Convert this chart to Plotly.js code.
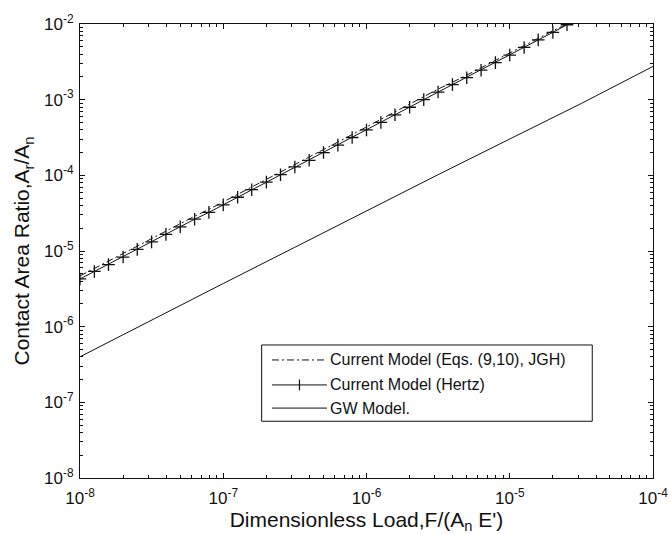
<!DOCTYPE html>
<html>
<head>
<meta charset="utf-8">
<script src="https://cdn.plot.ly/plotly-3.0.1.min.js"></script>
<style>
  html, body { margin: 0; padding: 0; background: #fff; }
  #chart { width: 670px; height: 534px; }
</style>
</head>
<body>
<div id="chart"></div>
<script>
// Dimensionless load F/(An E') sampled every 0.1 decade
const loads = [
  1.00e-8, 1.26e-8, 1.58e-8, 2.00e-8, 2.51e-8, 3.16e-8, 3.98e-8, 5.01e-8, 6.31e-8, 7.94e-8,
  1.00e-7, 1.26e-7, 1.58e-7, 2.00e-7, 2.51e-7, 3.16e-7, 3.98e-7, 5.01e-7, 6.31e-7, 7.94e-7,
  1.00e-6, 1.26e-6, 1.58e-6, 2.00e-6, 2.51e-6, 3.16e-6, 3.98e-6, 5.01e-6, 6.31e-6, 7.94e-6,
  1.00e-5, 1.26e-5, 1.58e-5, 2.00e-5, 2.51e-5
];

// Current model, Eqs. (9,10), JGH
const areaJGH = [
  4.68e-6, 5.89e-6, 7.24e-6, 9.12e-6, 1.15e-5, 1.45e-5, 1.82e-5, 2.29e-5, 2.88e-5, 3.55e-5,
  4.47e-5, 5.62e-5, 7.08e-5, 8.91e-5, 1.12e-4, 1.41e-4, 1.74e-4, 2.19e-4, 2.75e-4, 3.47e-4,
  4.37e-4, 5.50e-4, 6.92e-4, 8.71e-4, 1.10e-3, 1.38e-3, 1.70e-3, 2.09e-3, 2.63e-3, 3.31e-3,
  4.17e-3, 5.25e-3, 6.46e-3, 8.13e-3, 1.00e-2
];

// Current model, Hertz
const areaHertz = [
  4.27e-6, 5.37e-6, 6.61e-6, 8.32e-6, 1.05e-5, 1.32e-5, 1.66e-5, 2.09e-5, 2.63e-5, 3.24e-5,
  4.07e-5, 5.13e-5, 6.46e-5, 8.13e-5, 1.02e-4, 1.29e-4, 1.58e-4, 2.00e-4, 2.51e-4, 3.16e-4,
  3.98e-4, 5.01e-4, 6.31e-4, 7.94e-4, 1.00e-3, 1.26e-3, 1.58e-3, 1.95e-3, 2.45e-3, 3.09e-3,
  3.89e-3, 4.90e-3, 6.17e-3, 7.76e-3, 9.77e-3
];

// Greenwood-Williamson model
const loadsGW = [1e-8, 3.16e-8, 1e-7, 3.16e-7, 1e-6, 3.16e-6, 1e-5, 3.16e-5, 1e-4];
const areaGW  = [4.0e-7, 1.23e-6, 3.72e-6, 1.12e-5, 3.39e-5, 1.02e-4, 3.02e-4, 8.91e-4, 2.75e-3];

// Legend entries
const seriesNames = [
  "Current Model (Eqs. (9,10), JGH)",
  "Current Model (Hertz)",
  "GW Model."
];

// Axis ticks
const xTickVals = [1e-8, 1e-7, 1e-6, 1e-5, 1e-4];
const xTickText = ["10<sup>-8</sup>", "10<sup>-7</sup>", "10<sup>-6</sup>", "10<sup>-5</sup>", "10<sup>-4</sup>"];
const yTickVals = [1e-8, 1e-7, 1e-6, 1e-5, 1e-4, 1e-3, 1e-2];
const yTickText = ["10<sup>-8</sup>", "10<sup>-7</sup>", "10<sup>-6</sup>", "10<sup>-5</sup>",
                   "10<sup>-4</sup>", "10<sup>-3</sup>", "10<sup>-2</sup>"];

function minorTicks(fromExp, toExp) {
  const out = [];
  for (let e = fromExp; e < toExp; e++) {
    for (let m = 2; m <= 9; m++) out.push(m * Math.pow(10, e));
  }
  return out;
}

const ink = "#111";
const DASHDOT = "7px,3px,2px,3px";

const traces = [
  {
    x: loads, y: areaJGH, type: "scatter", mode: "lines",
    name: seriesNames[0],
    line: { color: ink, width: 1, dash: DASHDOT },
    showlegend: false
  },
  {
    x: loads, y: areaHertz, type: "scatter", mode: "lines+markers",
    name: seriesNames[1],
    line: { color: ink, width: 1 },
    marker: { symbol: "cross-thin-open", size: 9, color: ink, line: { color: ink, width: 1.3 } },
    showlegend: false
  },
  {
    x: loadsGW, y: areaGW, type: "scatter", mode: "lines",
    name: seriesNames[2],
    line: { color: ink, width: 1 },
    showlegend: false
  }
];

const font = "'Liberation Sans', Arial, Helvetica, sans-serif";

const axisCommon = {
  type: "log",
  showgrid: false,
  zeroline: false,
  showline: true,
  linecolor: ink,
  linewidth: 1,
  mirror: "allticks",
  ticks: "inside",
  ticklen: 5,
  tickwidth: 1,
  tickcolor: ink,
  tickmode: "array",
  tickfont: { family: font, size: 17, color: ink }
};

// Legend box, drawn in paper coordinates
const lgX0 = 0.317, lgX1 = 0.894, lgY0 = 0.125, lgY1 = 0.293;
const rowY = [0.260, 0.205, 0.154];
const sampleX0 = 0.335, sampleX1 = 0.431, textX = 0.432;

const shapes = [
  { type: "rect", xref: "paper", yref: "paper", x0: lgX0, x1: lgX1, y0: lgY0, y1: lgY1,
    line: { color: ink, width: 1 }, fillcolor: "rgba(255,255,255,1)" },
  { type: "line", xref: "paper", yref: "paper", x0: sampleX0, x1: sampleX1, y0: rowY[0], y1: rowY[0],
    line: { color: ink, width: 1, dash: DASHDOT } },
  { type: "line", xref: "paper", yref: "paper", x0: sampleX0, x1: sampleX1, y0: rowY[1], y1: rowY[1],
    line: { color: ink, width: 1 } },
  { type: "line", xref: "paper", yref: "paper", x0: (sampleX0 + sampleX1) / 2, x1: (sampleX0 + sampleX1) / 2,
    y0: rowY[1] - 0.012, y1: rowY[1] + 0.012, line: { color: ink, width: 1.2 } },
  { type: "line", xref: "paper", yref: "paper", x0: sampleX0, x1: sampleX1, y0: rowY[2], y1: rowY[2],
    line: { color: ink, width: 1 } }
];

const annotations = seriesNames.map((name, i) => ({
  xref: "paper", yref: "paper", x: textX, y: rowY[i],
  xanchor: "left", yanchor: "middle", showarrow: false,
  text: name, font: { family: font, size: 16, color: ink }
}));

const layout = {
  width: 670,
  height: 534,
  margin: { l: 80, r: 17, t: 24, b: 56, pad: 0 },
  paper_bgcolor: "#fff",
  plot_bgcolor: "#fff",
  showlegend: false,
  font: { family: font, color: ink },
  xaxis: Object.assign({}, axisCommon, {
    range: [-8, -4],
    tickvals: xTickVals,
    ticktext: xTickText,
    ticklabelstandoff: 5,
    minor: { tickmode: "array", tickvals: minorTicks(-8, -4), ticks: "inside", ticklen: 3, tickcolor: ink, tickwidth: 1 },
    title: { text: "Dimensionless Load,F/(A<sub>n</sub> E')", font: { family: font, size: 21, color: ink }, standoff: 5 }
  }),
  yaxis: Object.assign({}, axisCommon, {
    range: [-8, -2],
    tickvals: yTickVals,
    ticktext: yTickText,
    ticklabelstandoff: 2,
    minor: { tickmode: "array", tickvals: minorTicks(-8, -2), ticks: "inside", ticklen: 3, tickcolor: ink, tickwidth: 1 },
    title: { text: "Contact Area Ratio,A<sub>r</sub>/A<sub>n</sub>", font: { family: font, size: 21, color: ink }, standoff: 8 }
  }),
  shapes: shapes,
  annotations: annotations
};

Plotly.newPlot("chart", traces, layout, { displayModeBar: false, staticPlot: true });
</script>
</body>
</html>
